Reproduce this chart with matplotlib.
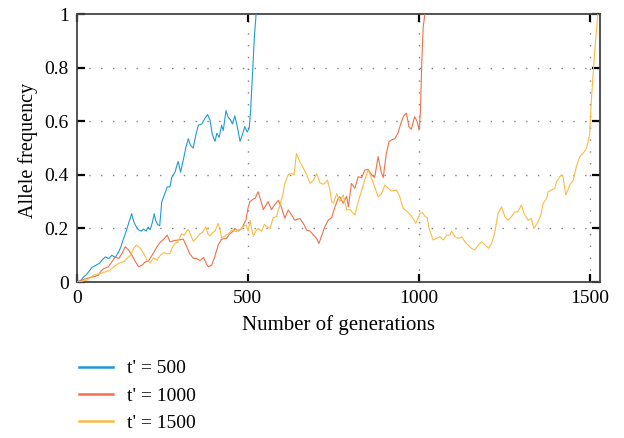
import numpy as np
import matplotlib
matplotlib.use("Agg")
import matplotlib.pyplot as plt

plt.rcParams['font.family'] = ['Liberation Serif', 'DejaVu Serif']

# ---------------- allele frequency trajectories ----------------
gen_500 = [0, 10, 20, 29, 38, 44, 52, 58, 66, 73, 83, 93, 102, 112, 122, 128, 137, 144,
           150, 156, 160, 166, 172, 180, 188, 195, 202, 208, 214, 220, 226, 230, 236, 242,
           248, 257, 264, 272, 277, 287, 291, 296, 303, 311, 319, 326, 332, 340, 348, 355,
           365, 374, 382, 389, 396, 404, 409, 416, 423, 428, 436, 442, 449, 455, 462, 469,
           477, 484, 491, 498, 504, 508, 514, 519, 524]
freq_500 = [0, 0.005, 0.02, 0.03, 0.045, 0.055, 0.06, 0.065, 0.07, 0.082, 0.094, 0.088, 0.10,
            0.092, 0.113, 0.13, 0.165, 0.19, 0.215, 0.24, 0.255, 0.225, 0.21, 0.195, 0.19,
            0.198, 0.19, 0.205, 0.195, 0.22, 0.255, 0.23, 0.215, 0.21, 0.30, 0.33, 0.355,
            0.355, 0.39, 0.41, 0.43, 0.45, 0.41, 0.455, 0.505, 0.535, 0.51, 0.50, 0.55, 0.585,
            0.59, 0.61, 0.625, 0.605, 0.55, 0.525, 0.555, 0.54, 0.585, 0.565, 0.64, 0.615,
            0.605, 0.59, 0.62, 0.58, 0.525, 0.55, 0.58, 0.56, 0.575, 0.64, 0.79, 0.915, 1.0]

gen_1000 = [0, 10, 20, 29, 40, 49, 63, 70, 78, 92, 102, 112, 122, 132, 141, 151, 161, 171,
            180, 190, 200, 210, 223, 233, 243, 254, 264, 272, 285, 296, 311, 321, 330, 341,
            350, 360, 370, 378, 384, 394, 403, 413, 423, 437, 447, 457, 462, 472, 482, 494,
            501, 506, 516, 521, 530, 540, 545, 559, 569, 579, 589, 598, 608, 618, 628, 637,
            652, 662, 672, 682, 692, 701, 708, 715, 725, 735, 745, 754, 764, 769, 779, 789,
            794, 803, 813, 823, 833, 842, 852, 862, 871, 881, 891, 896, 905, 913, 920, 930,
            939, 949, 956, 964, 971, 978, 988, 995, 1001, 1005, 1009, 1013, 1018]
freq_1000 = [0, 0.005, 0.01, 0.014, 0.018, 0.02, 0.026, 0.04, 0.05, 0.057, 0.076, 0.094,
             0.088, 0.107, 0.132, 0.12, 0.10, 0.076, 0.057, 0.063, 0.075, 0.08, 0.107, 0.13,
             0.148, 0.16, 0.175, 0.15, 0.155, 0.157, 0.16, 0.132, 0.105, 0.088, 0.088, 0.08,
             0.092, 0.07, 0.057, 0.063, 0.094, 0.138, 0.16, 0.163, 0.18, 0.19, 0.2, 0.19, 0.2,
             0.231, 0.28, 0.3, 0.31, 0.312, 0.337, 0.294, 0.27, 0.30, 0.27, 0.29, 0.305, 0.28,
             0.238, 0.269, 0.25, 0.231, 0.237, 0.219, 0.194, 0.19, 0.175, 0.163, 0.144, 0.17,
             0.206, 0.231, 0.24, 0.278, 0.312, 0.318, 0.294, 0.32, 0.28, 0.368, 0.35, 0.393,
             0.39, 0.418, 0.42, 0.40, 0.39, 0.468, 0.405, 0.39, 0.48, 0.524, 0.53, 0.535,
             0.555, 0.598, 0.62, 0.63, 0.58, 0.57, 0.617, 0.60, 0.567, 0.642, 0.83, 0.953, 1.0]

gen_1500 = [0, 15, 29, 40, 49, 60, 68, 83, 97, 107, 122, 137, 146, 156, 166, 174, 185, 195,
            205, 214, 224, 234, 244, 255, 264, 272, 279, 287, 295, 306, 314, 321, 326, 333,
            340, 350, 360, 367, 374, 377, 383, 389, 397, 404, 413, 418, 423, 430, 443, 450,
            457, 465, 474, 482, 491, 496, 501, 506, 511, 516, 523, 530, 540, 548, 555, 565,
            574, 584, 589, 594, 603, 608, 618, 628, 635, 642, 652, 662, 672, 682, 692, 701,
            711, 721, 733, 740, 745, 750, 760, 769, 779, 789, 799, 813, 823, 833, 842, 852,
            858, 867, 881, 891, 901, 910, 920, 935, 944, 954, 969, 983, 991, 998, 1003, 1011,
            1018, 1025, 1030, 1037, 1042, 1052, 1062, 1072, 1081, 1091, 1096, 1106, 1116,
            1126, 1135, 1144, 1154, 1164, 1174, 1184, 1194, 1204, 1213, 1222, 1232, 1242,
            1252, 1262, 1271, 1281, 1290, 1300, 1310, 1320, 1329, 1337, 1349, 1357, 1364,
            1374, 1379, 1388, 1398, 1403, 1417, 1422, 1430, 1442, 1452, 1461, 1471, 1481,
            1491, 1500, 1505, 1515, 1524]
freq_1500 = [0, 0.003, 0.007, 0.018, 0.026, 0.03, 0.032, 0.038, 0.045, 0.057, 0.07, 0.076,
             0.088, 0.10, 0.126, 0.138, 0.126, 0.107, 0.082, 0.072, 0.09, 0.082, 0.10, 0.11,
             0.105, 0.107, 0.13, 0.145, 0.15, 0.18, 0.175, 0.19, 0.196, 0.175, 0.152, 0.165,
             0.18, 0.185, 0.2, 0.206, 0.18, 0.172, 0.185, 0.19, 0.219, 0.2, 0.165, 0.17, 0.18,
             0.19, 0.194, 0.188, 0.195, 0.2, 0.213, 0.21, 0.19, 0.23, 0.2, 0.17, 0.19, 0.2,
             0.19, 0.215, 0.206, 0.2, 0.24, 0.245, 0.27, 0.287, 0.331, 0.368, 0.40, 0.405,
             0.40, 0.48, 0.449, 0.425, 0.40, 0.368, 0.38, 0.405, 0.37, 0.365, 0.38, 0.343,
             0.30, 0.294, 0.33, 0.30, 0.325, 0.269, 0.27, 0.25, 0.30, 0.343, 0.38, 0.418,
             0.40, 0.37, 0.318, 0.33, 0.362, 0.35, 0.34, 0.343, 0.32, 0.275, 0.26, 0.238,
             0.219, 0.238, 0.256, 0.26, 0.245, 0.24, 0.2, 0.175, 0.157, 0.163, 0.169, 0.157,
             0.175, 0.175, 0.19, 0.169, 0.163, 0.169, 0.15, 0.138, 0.126, 0.12, 0.138, 0.15,
             0.138, 0.126, 0.145, 0.182, 0.256, 0.281, 0.244, 0.231, 0.244, 0.262, 0.262,
             0.287, 0.25, 0.231, 0.237, 0.20, 0.225, 0.25, 0.294, 0.312, 0.337, 0.343, 0.35,
             0.374, 0.40, 0.394, 0.325, 0.362, 0.38, 0.43, 0.468, 0.48, 0.50, 0.55, 0.68,
             0.866, 1.0]

labels = ["t' = 500", "t' = 1000", "t' = 1500"]
colors = ['#1f9bd7', '#f0704a', '#fbbb45']

x_ticks = [0, 500, 1000, 1500]
y_ticks = [0, 0.2, 0.4, 0.6, 0.8, 1]
y_tick_labels = ['0', '0.2', '0.4', '0.6', '0.8', '1']

fig = plt.figure(figsize=(6.24, 4.38), dpi=100)
ax = fig.add_axes([0.1234, 0.356, 0.838, 0.612])

series = [(gen_500, freq_500), (gen_1000, freq_1000), (gen_1500, freq_1500)]
for (g, f), lab, c in zip(series, labels, colors):
    ax.plot(g, f, color=c, lw=0.8, label=lab, zorder=3)

ax.set_xlim(0, 1530)
ax.set_ylim(0, 1)
ax.set_xticks(x_ticks)
ax.set_yticks(y_ticks)
ax.set_yticklabels(y_tick_labels)

# dotted grid only on interior lines
for yv in y_ticks[1:-1]:
    ax.axhline(yv, color='#808080', lw=1.0, ls=(0, (1, 7.5)), zorder=1)
for xv in x_ticks[1:]:
    ax.axvline(xv, color='#808080', lw=1.0, ls=(0, (1, 7.5)), zorder=1)

ax.tick_params(direction='in', top=True, right=True, length=5.5, width=1.6,
               color='black', labelsize=14, pad=6)
for sp in ax.spines.values():
    sp.set_color('#444444')
    sp.set_linewidth(1.3)

ax.set_xlabel('Number of generations', fontsize=15)
ax.set_ylabel('Allele frequency', fontsize=14.5)
ax.xaxis.set_label_coords(0.5, -0.125)
ax.yaxis.set_label_coords(-0.074, 0.49)

leg = ax.legend(loc='upper left', bbox_to_anchor=(0.003, -0.29), frameon=False,
                fontsize=14, handlelength=1.75, handletextpad=0.75, labelspacing=0.5,
                borderaxespad=0, borderpad=0)
for h in leg.legend_handles:
    h.set_linewidth(1.8)

fig.savefig('out.png', dpi=100)
